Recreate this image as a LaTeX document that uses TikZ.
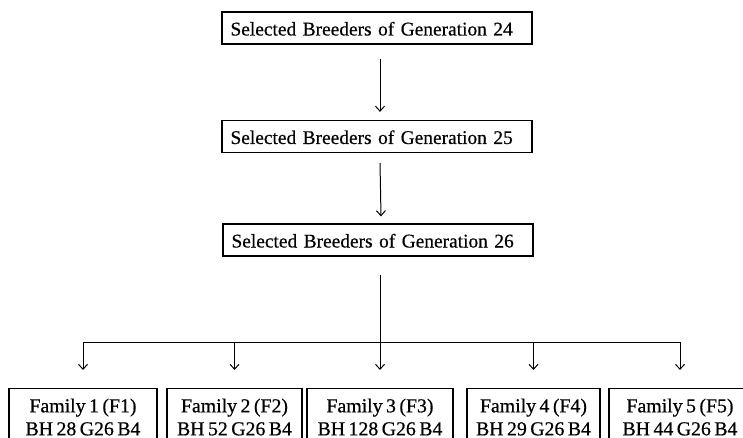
\documentclass[tikz,border=0pt]{standalone}
\usepackage{fontspec}
\setmainfont{Liberation Serif}[FakeBold=0.5, WordSpace=0.7]
\usetikzlibrary{arrows.meta}

\begin{document}
\begin{tikzpicture}[x=1pt, y=-1pt, >={Straight Barb[length=5pt, width=9pt]},
    gen/.style={draw, line width=1.2pt, minimum width=310pt, inner ysep=6.5pt, inner xsep=8.5pt,
        text width=293pt, align=left, text height=17pt, text depth=2pt,
        font=\fontsize{19.4}{22}\selectfont},
    fam/.style={draw, line width=1.2pt, anchor=north, align=center, inner ysep=10pt,
        font=\fontsize{19.8}{23}\selectfont}]
    \useasboundingbox (0,0) rectangle (743,438);
    \node[gen] (g24) at (377,28) {Selected Breeders of Generation 24};
    \node[gen] (g25) at (377,136.5) {Selected Breeders of Generation 25};
    \node[gen] (g26) at (378,240) {Selected Breeders of Generation 26};
    \node[fam, minimum width=148pt] (f1) at (83,388) {Family 1 (F1)\\BH 28 G26 B4};
    \node[fam, minimum width=135pt] (f2) at (234.5,388) {Family 2 (F2)\\BH 52 G26 B4};
    \node[fam, minimum width=146pt] (f3) at (380,388) {Family 3 (F3)\\BH 128 G26 B4};
    \node[fam, minimum width=133pt] (f4) at (533.5,388) {Family 4 (F4)\\BH 29 G26 B4};
    \node[fam, minimum width=142pt] (f5) at (680,388) {Family 5 (F5)\\BH 44 G26 B4};
    \coordinate (split) at (380,342);
    \draw[->, line width=1pt] ([xshift=3pt, yshift=-14pt]g24.south) -- ([xshift=3pt, yshift=8pt]g25.north);
    \draw[->, line width=1pt] ([xshift=3pt, yshift=-10pt]g25.south) -- ([xshift=3pt, yshift=7pt]g26.north);
    \draw[line width=1pt] ([xshift=2pt, yshift=-18pt]g26.south) -- (split);
    \draw[line width=1pt] (split -| f1) -- (split -| f5);
    \foreach \f in {f1, f2, f3, f4, f5}
        \draw[->, line width=1pt] (split -| \f) -- ([yshift=18pt]\f.north);
\end{tikzpicture}
\end{document}
